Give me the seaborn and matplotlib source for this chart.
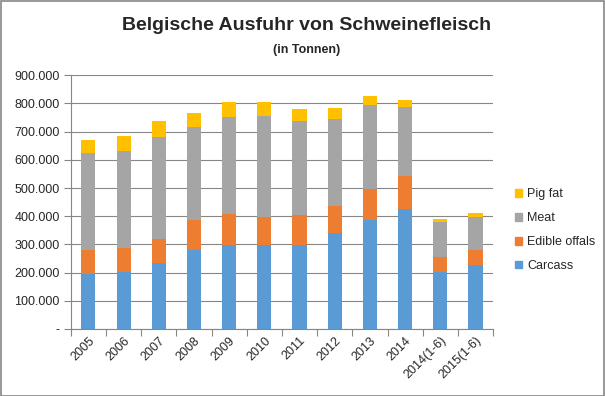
#!/usr/bin/env python
"""Belgische Ausfuhr von Schweinefleisch - stacked bars."""
import matplotlib
matplotlib.use("Agg")
import matplotlib.pyplot as plt
import matplotlib.patches as mpatches
from matplotlib.ticker import FuncFormatter
import pandas as pd
import seaborn as sns

years = ["2005", "2006", "2007", "2008", "2009", "2010", "2011", "2012",
         "2013", "2014", "2014(1-6)", "2015(1-6)"]
carcass = [197, 204, 233, 282, 299, 299, 299, 341, 387, 426, 201, 226]
edible_offals = [82, 82, 87, 105, 110, 100, 104, 97, 111, 115, 53, 53]
meat = [346, 346, 361, 330, 343, 357, 335, 307, 295, 247, 127, 117]
pig_fat = [46, 53, 57, 49, 53, 49, 43, 39, 34, 25, 11, 14]

series = ["Carcass", "Edible offals", "Meat", "Pig fat"]
colors = ["#5B9BD5", "#ED7D31", "#A5A5A5", "#FFC000"]

sns.set_theme(style="white")
plt.rcParams["font.family"] = ["Liberation Sans", "DejaVu Sans"]

df = pd.DataFrame({"year": years, "Carcass": carcass, "Edible offals": edible_offals,
                   "Meat": meat, "Pig fat": pig_fat})
cum = df[series].cumsum(axis=1) * 1000
cum["year"] = df["year"]

fig = plt.figure(figsize=(6.05, 3.96), dpi=100)
ax = fig.add_axes([0.117, 0.169, 0.698, 0.641])

# draw tallest stack first, then the lower segments over it
for name, color in reversed(list(zip(series, colors))):
    sns.barplot(data=cum, x="year", y=name, color=color, width=0.4,
                saturation=1, ax=ax, zorder=3, linewidth=0, edgecolor="none")

ax.set_ylim(0, 900000)
ax.set_xlim(-0.5, len(years) - 0.5)
ax.set_yticks(range(0, 900001, 100000))
ax.yaxis.set_major_formatter(FuncFormatter(
    lambda v, _: "-" if v == 0 else f"{int(v):,}".replace(",", ".")))
ax.set_xlabel("")
ax.set_ylabel("")
ax.grid(axis="y", color="#868686", linewidth=0.8, zorder=0)
for side in ["top", "right"]:
    ax.spines[side].set_visible(False)
for side in ["left", "bottom"]:
    ax.spines[side].set_color("#868686")
    ax.spines[side].set_linewidth(0.8)

ax.set_xticks(range(len(years)))
ax.set_xticklabels(years, rotation=45, ha="right", rotation_mode="anchor", fontsize=9)
ax.tick_params(axis="x", length=0, pad=4)
ax.set_xticks([i - 0.5 for i in range(len(years) + 1)], minor=True)
ax.tick_params(axis="x", which="minor", length=5, color="#868686", width=0.8,
               direction="out", bottom=True)
ax.tick_params(axis="y", labelsize=9, length=5, color="#868686", width=0.8,
               direction="out", left=True, pad=3)

handles = [mpatches.Patch(color=c, label=s) for s, c in zip(series, colors)][::-1]
fig.legend(handles=handles, loc="upper left", bbox_to_anchor=(0.832, 0.553),
           frameon=False, fontsize=9, handlelength=0.6, handleheight=0.6,
           handletextpad=0.4, labelspacing=0.95)

fig.text(0.506, 0.935, "Belgische Ausfuhr von Schweinefleisch", ha="center",
         va="center", fontsize=14, fontweight="bold")
fig.text(0.506, 0.873, "(in Tonnen)", ha="center", va="center", fontsize=9,
         fontweight="bold")

fig.patches.append(mpatches.Rectangle((0.001, 0.001), 0.997, 0.997,
                                      transform=fig.transFigure, fill=False,
                                      edgecolor="#868686", linewidth=1.2))

fig.savefig("out.png", dpi=100)
